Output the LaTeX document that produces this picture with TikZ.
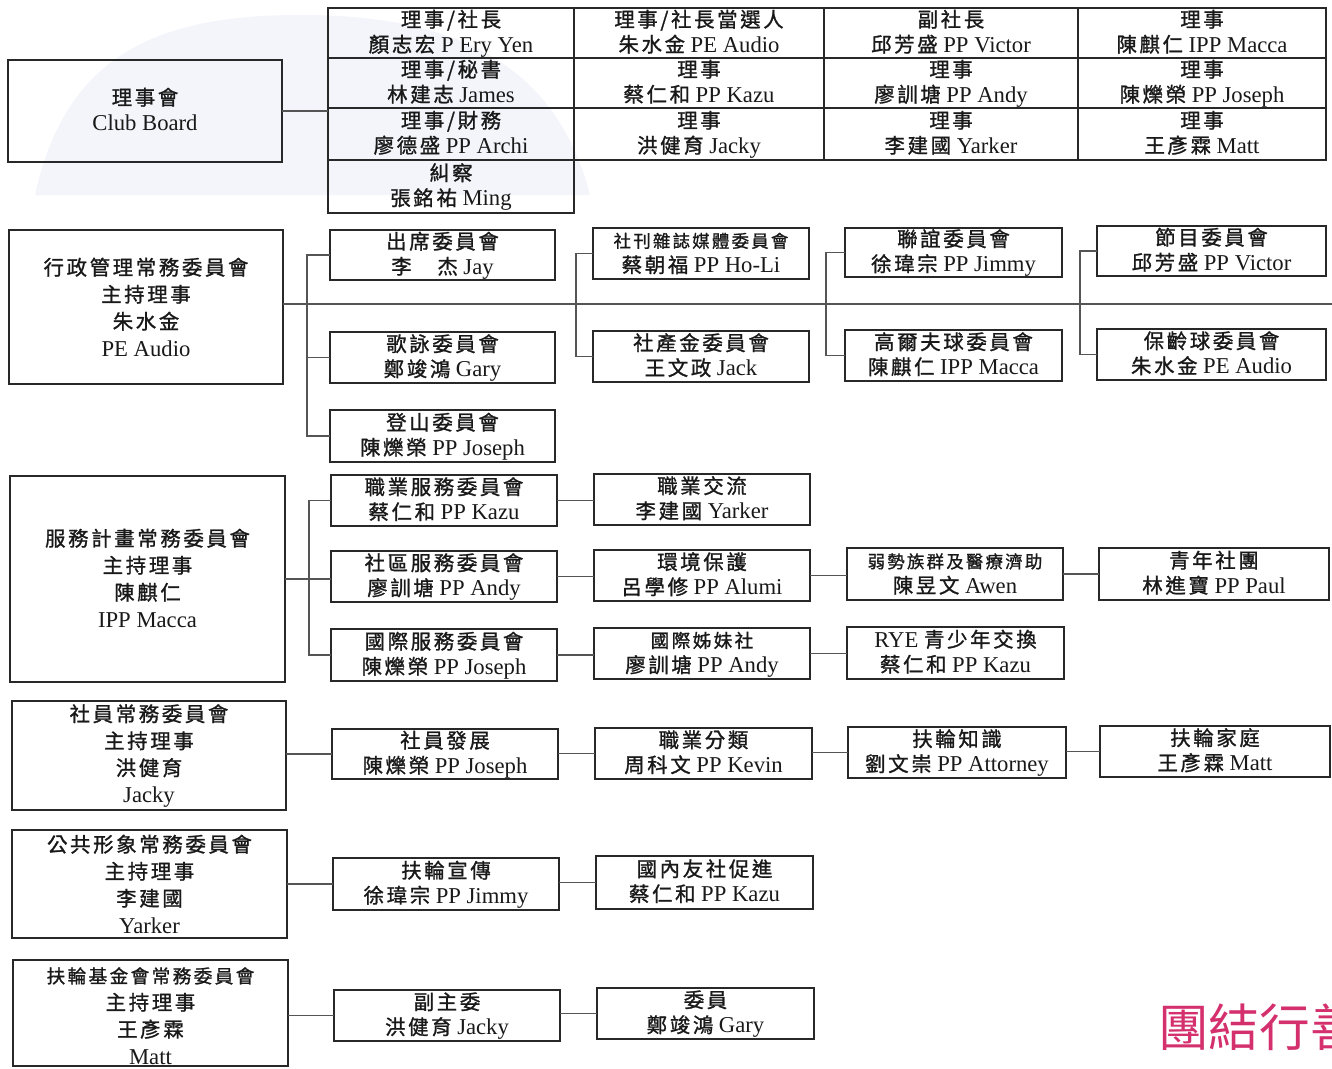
\documentclass[tikz,border=0pt]{standalone}
\usepackage{fontspec}
\setmainfont{Liberation Serif}
\newfontfamily\cjk{Noto Sans CJK TC}[Scale=0.9,LetterSpace=13,FakeBold=1.2]
\newfontfamily\cjkmotto{Noto Sans CJK TC}
\usetikzlibrary{fit}
\definecolor{ink}{RGB}{40,40,40}
\definecolor{wire}{RGB}{85,85,85}
\definecolor{pinkred}{RGB}{212,48,110}
\definecolor{wash}{RGB}{243,245,251}
\newcommand\C[1]{{\cjk #1}}
\newcommand\fs{\fontsize{17}{19}\selectfont}
\newcommand\fsm{\fontsize{14.5}{19}\selectfont}
\def\mshift{0}
% two-line box: [opts]{name}{x1}{y1}{x2}{y2}{line1}{line2}
\newcommand\bx[8][]{%
  \node[bx,#1,fit={(#3,#4)(#5,#6)}] (#2) {};
  \node[tx] (#2-a) at ([yshift=4.5pt]#2.center) {#7};
  \node[tx] (#2-b) at ([yshift=-14.25pt]#2.center) {#8};
}
% four-line box: {name}{x1}{y1}{x2}{y2}{l1}{l2}{l3}{l4}
\newcommand\mbx[9]{%
  \node[bx,fit={(#2,#3)(#4,#5)}] (#1) {};
  \node[tx] (#1-a) at ([yshift=24.75pt-0.75pt*\mshift]#1.center) {#6};
  \node[tx] (#1-b) at ([yshift=4.5pt-0.75pt*\mshift]#1.center) {#7};
  \node[tx] (#1-c) at ([yshift=-15.75pt-0.75pt*\mshift]#1.center) {#8};
  \node[tx] (#1-d) at ([yshift=-36pt-0.75pt*\mshift]#1.center) {#9};
}
\tikzset{
  bx/.style={draw=ink, line width=1.3pt, inner sep=0pt, outer sep=0pt},
  tx/.style={anchor=base, inner sep=0pt, font=\fs, text=black!90},
  wire/.style={draw=wire, line width=0.9pt},
}
\begin{document}
\begin{tikzpicture}[x=0.75pt,y=-0.75pt]
\useasboundingbox[fill=white] (0,0) rectangle (1332,1068);
% faint background wash
\fill[wash] (35,195) .. controls (65,60) and (150,15) .. (300,15) .. controls (450,15) and (555,60) .. (590,195) -- cycle;

% ===== Club board =====
\bx{board}{8}{60}{282}{162}{\C{理事會}}{Club Board}
\bx{g11}{328}{8}{574}{58}{\C{理事/社長}}{\C{顏志宏} P Ery Yen}
\bx{g12}{574}{8}{824}{58}{\C{理事/社長當選人}}{\C{朱水金} PE Audio}
\bx{g13}{824}{8}{1078}{58}{\C{副社長}}{\C{邱芳盛} PP Victor}
\bx{g14}{1078}{8}{1326}{58}{\C{理事}}{\C{陳麒仁} IPP Macca}
\bx{g21}{328}{58}{574}{108}{\C{理事/秘書}}{\C{林建志} James}
\bx{g22}{574}{58}{824}{108}{\C{理事}}{\C{蔡仁和} PP Kazu}
\bx{g23}{824}{58}{1078}{108}{\C{理事}}{\C{廖訓塘} PP Andy}
\bx{g24}{1078}{58}{1326}{108}{\C{理事}}{\C{陳爍榮} PP Joseph}
\bx{g31}{328}{108}{574}{160}{\C{理事/財務}}{\C{廖德盛} PP Archi}
\bx{g32}{574}{108}{824}{160}{\C{理事}}{\C{洪健育} Jacky}
\bx{g33}{824}{108}{1078}{160}{\C{理事}}{\C{李建國} Yarker}
\bx{g34}{1078}{108}{1326}{160}{\C{理事}}{\C{王彥霖} Matt}
\bx{g41}{328}{160}{574}{213}{\C{糾察}}{\C{張銘祐} Ming}
\draw[wire] (board.east) -- (board.east -| g21.west);

% ===== Administration =====
\def\mshift{1}
\mbx{adm}{9}{230}{283}{384}{\C{行政管理常務委員會}}{\C{主持理事}}{\C{朱水金}}{PE Audio}
\bx{a1}{330}{230}{555}{280}{\C{出席委員會}}{\C{李　杰} Jay}
\bx{a2}{330}{332}{555}{383}{\C{歌詠委員會}}{\C{鄭竣鴻} Gary}
\bx{a3}{330}{410}{555}{462}{\C{登山委員會}}{\C{陳爍榮} PP Joseph}
\bx{a4}{593}{228}{809}{279}{{\fsm\C{社刊雜誌媒體委員會}}}{\C{蔡朝福} PP Ho-Li}
\bx{a5}{593}{331}{809}{382}{\C{社產金委員會}}{\C{王文政} Jack}
\bx{a6}{845}{228}{1062}{277}{\C{聯誼委員會}}{\C{徐瑋宗} PP Jimmy}
\bx{a7}{845}{330}{1062}{381}{\C{高爾夫球委員會}}{\C{陳麒仁} IPP Macca}
\bx{a8}{1097}{226}{1326}{276}{\C{節目委員會}}{\C{邱芳盛} PP Victor}
\bx{a9}{1097}{329}{1326}{380}{\C{保齡球委員會}}{\C{朱水金} PE Audio}
\coordinate (aend) at (1332,304);
\draw[wire] (adm.east |- aend) -- (aend);
\draw[wire] (a1.west) -- ++(-23,0) |- (a3.west);
\draw[wire] (a2.west) -- ++(-23,0);
\draw[wire] (a4.west) -- ++(-17,0) |- (a5.west);
\draw[wire] (a6.west) -- ++(-19,0) |- (a7.west);
\draw[wire] (a8.west) -- ++(-17,0) |- (a9.west);

% ===== Service projects =====
\def\mshift{0}
\mbx{svc}{10}{476}{285}{682}{\C{服務計畫常務委員會}}{\C{主持理事}}{\C{陳麒仁}}{IPP Macca}
\bx{s1}{331}{475}{557}{526}{\C{職業服務委員會}}{\C{蔡仁和} PP Kazu}
\bx{s2}{331}{551}{557}{602}{\C{社區服務委員會}}{\C{廖訓塘} PP Andy}
\bx{s3}{331}{629}{557}{681}{\C{國際服務委員會}}{\C{陳爍榮} PP Joseph}
\bx{s4}{594}{474}{810}{525}{\C{職業交流}}{\C{李建國} Yarker}
\bx{s5}{594}{550}{810}{601}{\C{環境保護}}{\C{呂學修} PP Alumi}
\bx{s6}{594}{628}{810}{679}{{\fontsize{15.5}{19}\selectfont\C{國際姊妹社}}}{\C{廖訓塘} PP Andy}
\bx{s7}{847}{548}{1063}{600}{{\fsm\C{弱勢族群及醫療濟助}}}{\C{陳昱文} Awen}
\bx{s8}{847}{627}{1064}{679}{RYE \C{青少年交換}}{\C{蔡仁和} PP Kazu}
\bx{s9}{1099}{548}{1329}{600}{\C{青年社團}}{\C{林進寶} PP Paul}
\draw[wire] (svc.east) -- (svc.east -| s2.west);
\draw[wire] (s1.west) -- ++(-22,0) |- (s3.west);
\draw[wire] (s1.east) -- (s1.east -| s4.west);
\draw[wire] (s2.east) -- (s2.east -| s5.west);
\draw[wire] (s3.east) -- (s3.east -| s6.west);
\draw[wire] (s5.east) -- (s5.east -| s7.west);
\draw[wire] (s6.east) -- (s6.east -| s8.west);
\draw[wire] (s7.east) -- (s7.east -| s9.west);

% ===== Membership =====
\def\mshift{-1}
\mbx{mem}{12}{701}{286}{810}{\C{社員常務委員會}}{\C{主持理事}}{\C{洪健育}}{Jacky}
\bx{m1}{332}{729}{558}{779}{\C{社員發展}}{\C{陳爍榮} PP Joseph}
\bx{m2}{595}{728}{812}{779}{\C{職業分類}}{\C{周科文} PP Kevin}
\bx{m3}{848}{727}{1066}{778}{\C{扶輪知識}}{\C{劉文崇} PP Attorney}
\bx{m4}{1100}{726}{1330}{777}{\C{扶輪家庭}}{\C{王彥霖} Matt}
\draw[wire] (m1.west) -- (m1.west -| mem.east);
\draw[wire] (m2.west) -- (m2.west -| m1.east);
\draw[wire] (m3.west) -- (m3.west -| m2.east);
\draw[wire] (m4.west) -- (m4.west -| m3.east);

% ===== Public image =====
\def\mshift{1}
\mbx{pub}{12}{830}{287}{938}{\C{公共形象常務委員會}}{\C{主持理事}}{\C{李建國}}{Yarker}
\bx{p1}{333}{858}{559}{910}{\C{扶輪宣傳}}{\C{徐瑋宗} PP Jimmy}
\bx{p2}{596}{856}{813}{909}{\C{國內友社促進}}{\C{蔡仁和} PP Kazu}
\draw[wire] (p1.west) -- (p1.west -| pub.east);
\draw[wire] (p2.west) -- (p2.west -| p1.east);

% ===== Rotary Foundation =====
\def\mshift{3}
\mbx{fnd}{13}{960}{288}{1066}{{\fontsize{15.5}{19}\selectfont\C{扶輪基金會常務委員會}}}{\C{主持理事}}{\C{王彥霖}}{Matt}
\bx{f1}{334}{990}{560}{1041}{\C{副主委}}{\C{洪健育} Jacky}
\bx{f2}{597}{988}{814}{1039}{\C{委員}}{\C{鄭竣鴻} Gary}
\draw[wire] (f1.west) -- (f1.west -| fnd.east);
\draw[wire] (f2.west) -- (f2.west -| f1.east);

% ===== motto =====
\begin{scope}
\clip (0,0) rectangle (1332,1068);
\node[anchor=west, inner sep=0pt, text=pinkred, font={\fontsize{38}{40}\selectfont\cjkmotto}] (motto) at (1158,1027) {團結行善};
\end{scope}
\end{tikzpicture}
\end{document}
